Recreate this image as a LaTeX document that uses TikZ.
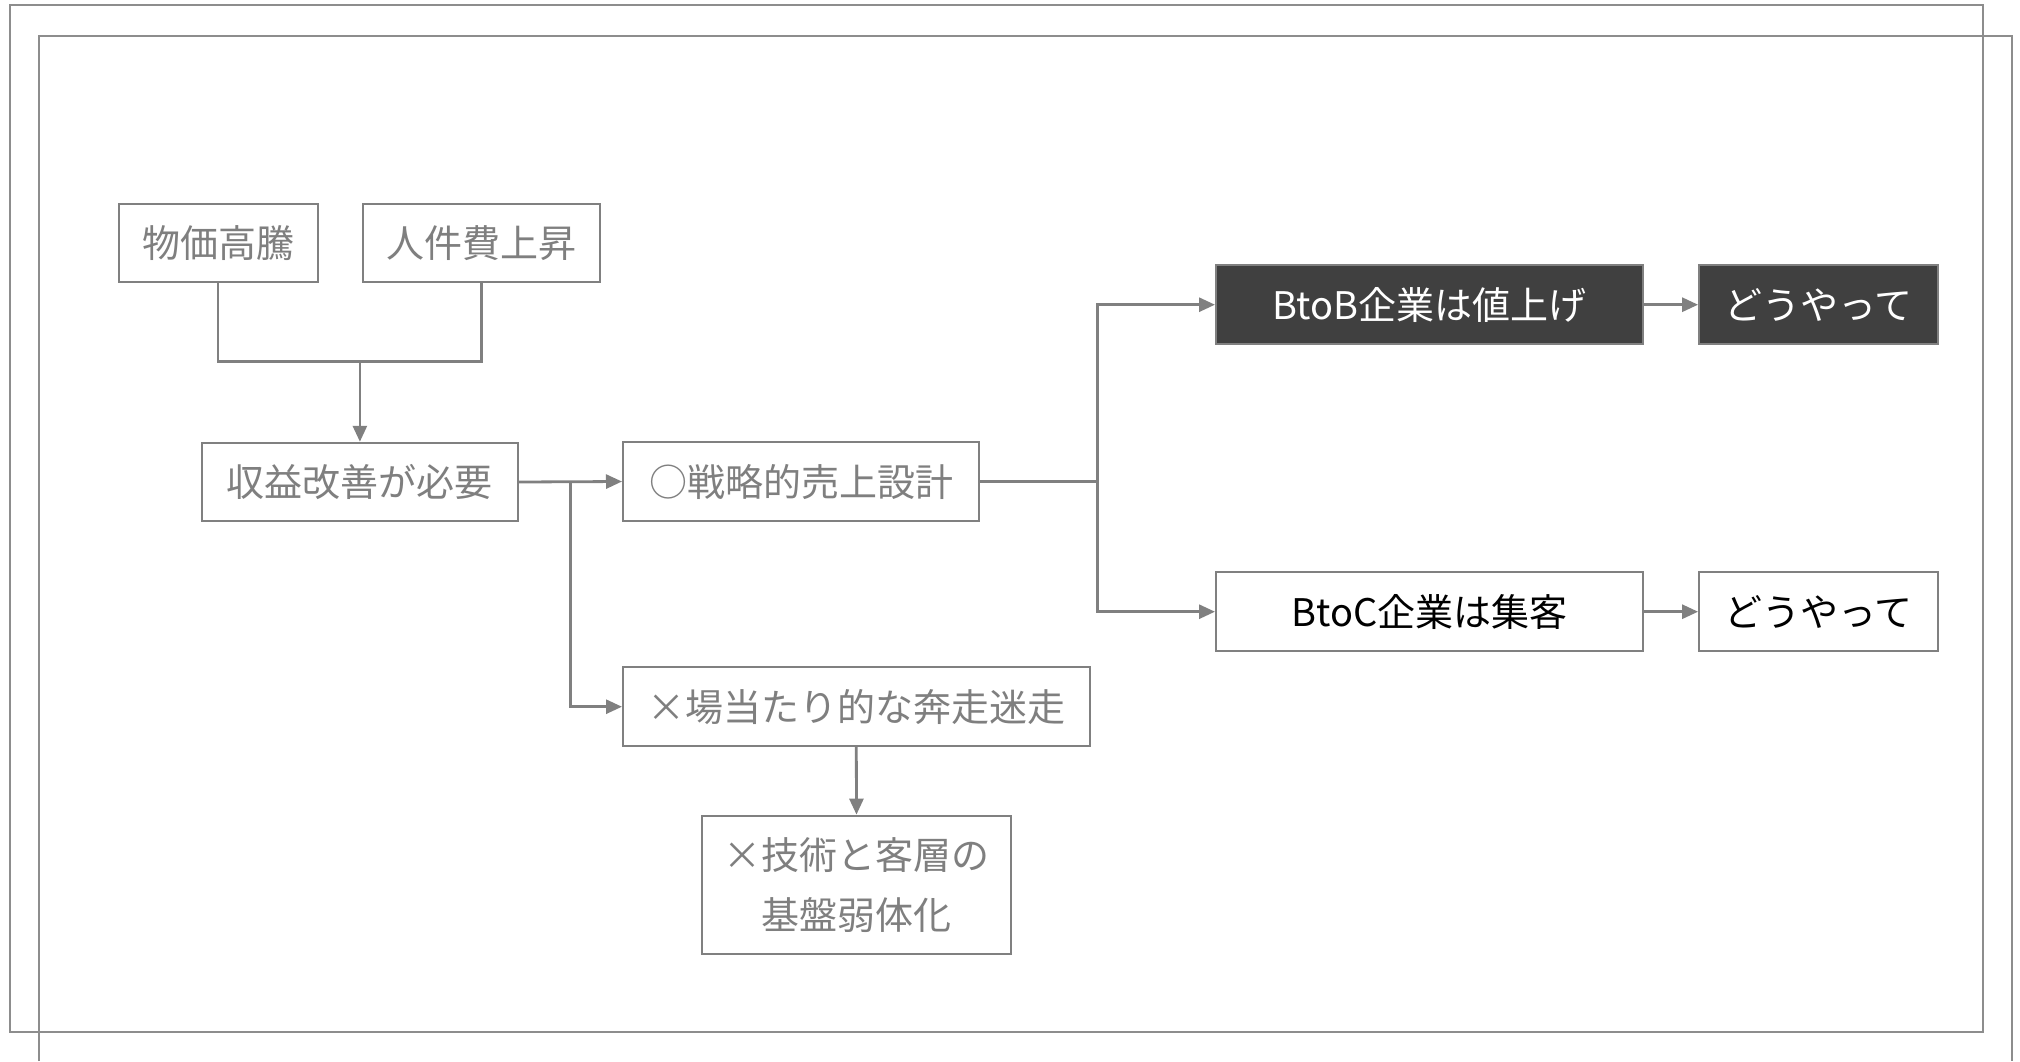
\documentclass[tikz,border=0pt]{standalone}
\usepackage{fontspec}
\setmainfont{Noto Sans CJK JP}
\usetikzlibrary{arrows.meta,positioning}
\definecolor{lgray}{HTML}{808080}
\definecolor{tgray}{HTML}{7F7F7F}
\definecolor{dfill}{HTML}{404040}
\tikzset{
  box/.style={draw=lgray, line width=1pt, rectangle, inner sep=0pt, align=center,
    font=\fontsize{19pt}{30pt}\selectfont, minimum height=39.25pt},
  graybox/.style={box, fill=white, text=tgray},
  darkbox/.style={box, fill=dfill, text=white},
  whitebox/.style={box, fill=white, text=black},
  conn/.style={draw=lgray, line width=1.4pt},
  arr/.style={conn, -{Triangle[length=8pt,width=7pt]}},
  frame/.style={draw=lgray!90, line width=0.75pt}
}
\begin{document}
\begin{tikzpicture}[x=0.5pt,y=-0.5pt]
\useasboundingbox (0,0) rectangle (2020,1061);
\fill[white] (0,0) rectangle (2020,1061);
% frames
\draw[frame] (10,5) rectangle (1983,1032);
\draw[frame] (39,1061) -- (39,36) -- (2012,36) -- (2012,1061);
% nodes
\node[graybox, minimum width=99.5pt] (A) at (218,243) {物価高騰};
\node[graybox, minimum width=118.7pt] (B) at (481.7,243) {人件費上昇};
\node[graybox, minimum width=158pt] (C) at (359.9,482) {収益改善が必要};
\node[graybox, minimum width=178pt] (D) at (801,481.5) {○戦略的売上設計};
\node[graybox, minimum width=233.3pt] (E) at (856.3,706.7) {\makebox[1em]{×}場当たり的な奔走迷走};
\node[graybox, minimum width=154.5pt, minimum height=69.4pt] (F) at (856.5,885) {\makebox[1em]{×}技術と客層の\\基盤弱体化};
\node[darkbox, minimum width=213.5pt] (G) at (1429.5,304.7) {BtoB企業は値上げ};
\node[darkbox, minimum width=119.2pt] (H) at (1818.3,304.7) {どうやって};
\node[whitebox, minimum width=213.5pt] (I) at (1429.5,611.7) {BtoC企業は集客};
\node[whitebox, minimum width=119.2pt] (J) at (1818.3,611.7) {どうやって};
% junctions
\coordinate (j1) at (359.9,361.8);
\coordinate (j2) at (570.5,482);
\coordinate (j3) at (1097.5,481.5);
% connectors
\draw[conn] (A.south) |- (j1) -| (B.south);
\draw[arr] (j1) -- (C.north);
\draw[arr] (C.east) -- (D.west);
\draw[arr] (j2) |- (E.west);
\draw[arr] (E.south) -- (F.north);
\draw[conn] (D.east) -- (j3);
\draw[arr] (j3) |- (G.west);
\draw[arr] (j3) |- (I.west);
\draw[arr] (G.east) -- (H.west);
\draw[arr] (I.east) -- (J.west);
\end{tikzpicture}
\end{document}
